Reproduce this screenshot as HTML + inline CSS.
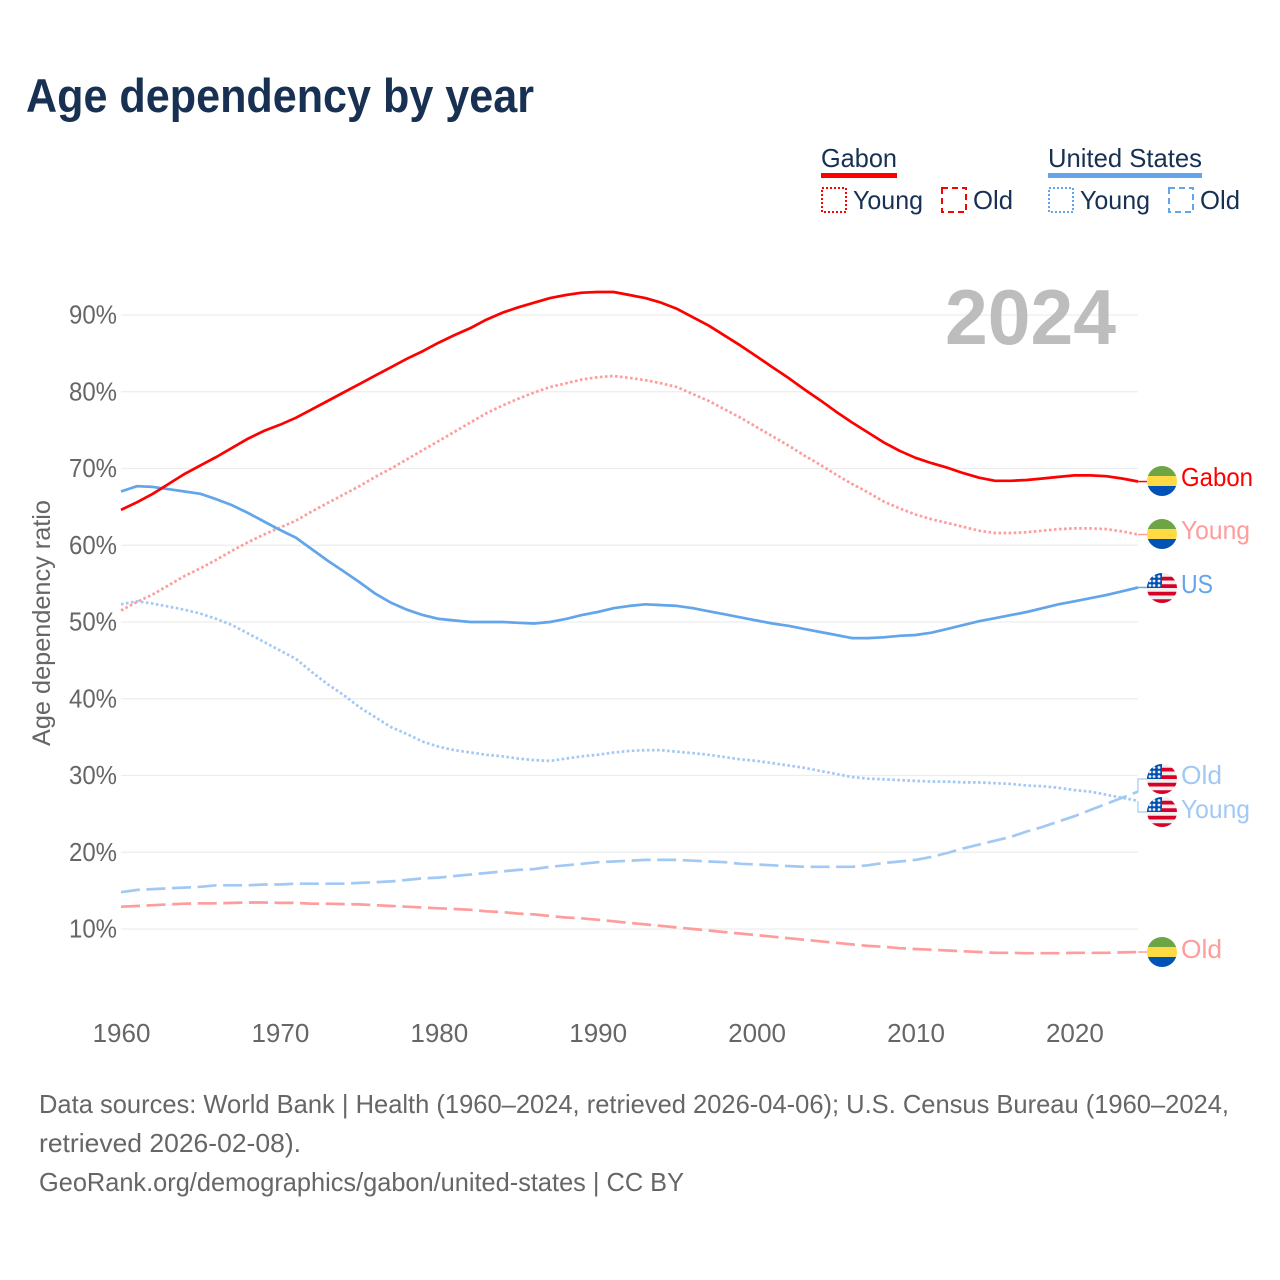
<!DOCTYPE html>
<html lang="en">
<head>
<meta charset="utf-8">
<title>Age dependency by year</title>
<style>
html,body{margin:0;padding:0;background:#fff;width:1280px;height:1280px;overflow:hidden}
svg{display:block;font-family:"Liberation Sans",sans-serif}
</style>
</head>
<body>
<svg id="chart" xmlns="http://www.w3.org/2000/svg" width="1280" height="1280" viewBox="0 0 1280 1280">
  <rect width="1280" height="1280" fill="#fff"/>
  <text x="26" y="112" font-size="47" font-weight="700" fill="#183153" textLength="508" lengthAdjust="spacingAndGlyphs">Age dependency by year</text>

  <g font-size="26" fill="#183153">
    <g>
      <text x="821" y="167" textLength="76" lengthAdjust="spacingAndGlyphs">Gabon</text>
      <rect x="821" y="173" width="76" height="5" fill="#ff0000"/>
      <rect x="822" y="188" width="24" height="24" fill="none" stroke="#ff0000" stroke-width="2" stroke-dasharray="2 2"/>
      <text x="853" y="209" textLength="70" lengthAdjust="spacingAndGlyphs">Young</text>
      <rect x="942" y="188" width="24" height="24" fill="none" stroke="#ff0000" stroke-width="2" stroke-dasharray="6 4"/>
      <text x="973" y="209" textLength="40" lengthAdjust="spacingAndGlyphs">Old</text>
    </g>
    <g>
      <text x="1048" y="167" textLength="154" lengthAdjust="spacingAndGlyphs">United States</text>
      <rect x="1048" y="173" width="154" height="5" fill="#62a5eb"/>
      <rect x="1049" y="188" width="24" height="24" fill="none" stroke="#62a5eb" stroke-width="2" stroke-dasharray="2 2"/>
      <text x="1080" y="209" textLength="70" lengthAdjust="spacingAndGlyphs">Young</text>
      <rect x="1169" y="188" width="24" height="24" fill="none" stroke="#62a5eb" stroke-width="2" stroke-dasharray="6 4"/>
      <text x="1200" y="209" textLength="40" lengthAdjust="spacingAndGlyphs">Old</text>
    </g>
  </g>

  <g id="grid"></g>
  <text x="945" y="344" font-size="78" font-weight="700" fill="#bdbdbd" textLength="171" lengthAdjust="spacingAndGlyphs">2024</text>
  <g id="yticks" font-size="26" fill="#666"></g>
  <g id="xticks" font-size="26" fill="#666"></g>
  <text transform="translate(50,746) rotate(-90)" font-size="25" fill="#666" textLength="246" lengthAdjust="spacingAndGlyphs">Age dependency ratio</text>
  <g id="series"></g>
  <g id="ends" font-size="26"></g>

  <g font-size="26" fill="#666">
    <text x="39" y="1113" textLength="1190" lengthAdjust="spacingAndGlyphs">Data sources: World Bank | Health (1960–2024, retrieved 2026-04-06); U.S. Census Bureau (1960–2024,</text>
    <text x="39" y="1152" textLength="262" lengthAdjust="spacingAndGlyphs">retrieved 2026-02-08).</text>
    <text x="39" y="1191" textLength="645" lengthAdjust="spacingAndGlyphs">GeoRank.org/demographics/gabon/united-states | CC BY</text>
  </g>
</svg>
<script>
const firstYear = 1960;
const xTickYears = [1960, 1970, 1980, 1990, 2000, 2010, 2020];
const yTickValues = [10, 20, 30, 40, 50, 60, 70, 80, 90];
const gabonTotal = [64.6,65.6,66.7,68.0,69.3,70.4,71.5,72.7,73.9,74.9,75.7,76.6,77.7,78.8,79.9,81.0,82.1,83.2,84.3,85.3,86.4,87.4,88.3,89.4,90.3,91.0,91.6,92.2,92.6,92.9,93.0,93.0,92.6,92.2,91.6,90.8,89.7,88.6,87.3,86.0,84.6,83.2,81.8,80.3,78.9,77.4,76.0,74.7,73.4,72.3,71.4,70.7,70.1,69.4,68.8,68.4,68.4,68.5,68.7,68.9,69.1,69.1,69.0,68.7,68.3];
const gabonYoung = [51.5,52.6,53.6,54.8,56.0,57.0,58.1,59.3,60.4,61.4,62.3,63.2,64.4,65.5,66.6,67.7,68.9,70.0,71.2,72.4,73.6,74.8,76.0,77.2,78.2,79.1,79.9,80.6,81.1,81.6,81.9,82.05,81.8,81.5,81.1,80.6,79.7,78.8,77.7,76.6,75.4,74.2,73.0,71.7,70.5,69.2,68.0,66.9,65.7,64.8,64.0,63.4,62.9,62.4,61.9,61.6,61.6,61.7,61.9,62.1,62.2,62.2,62.1,61.8,61.4];
const gabonOld = [12.9,13.0,13.1,13.2,13.3,13.35,13.35,13.4,13.45,13.45,13.4,13.4,13.3,13.3,13.25,13.2,13.1,13.0,12.9,12.8,12.7,12.6,12.5,12.3,12.2,12.0,11.9,11.7,11.5,11.4,11.2,11.0,10.8,10.6,10.4,10.2,10.0,9.8,9.6,9.4,9.2,9.0,8.8,8.6,8.4,8.2,8.0,7.8,7.7,7.5,7.4,7.3,7.2,7.1,7.0,6.9,6.9,6.85,6.85,6.85,6.9,6.9,6.9,6.95,7.0];
const usTotal = [67.0,67.7,67.6,67.3,67.0,66.7,66.0,65.2,64.2,63.1,62.0,61.0,59.5,58.0,56.6,55.2,53.7,52.5,51.6,50.9,50.4,50.2,50.0,50.0,50.0,49.9,49.8,50.0,50.4,50.9,51.3,51.8,52.1,52.3,52.2,52.1,51.8,51.4,51.0,50.6,50.2,49.8,49.5,49.1,48.7,48.3,47.9,47.9,48.0,48.2,48.3,48.6,49.1,49.6,50.1,50.5,50.9,51.3,51.8,52.3,52.7,53.1,53.5,54.0,54.5];
const usYoung = [52.3,52.7,52.4,52.0,51.6,51.1,50.4,49.6,48.5,47.4,46.3,45.2,43.5,41.9,40.5,38.9,37.6,36.3,35.4,34.4,33.75,33.3,33.0,32.7,32.5,32.2,32.0,31.9,32.2,32.5,32.7,33.0,33.2,33.3,33.3,33.1,32.9,32.7,32.4,32.1,31.9,31.6,31.3,31.0,30.6,30.2,29.8,29.6,29.5,29.4,29.3,29.2,29.2,29.1,29.1,29.0,28.9,28.7,28.6,28.4,28.1,27.9,27.5,27.1,26.7];
const usOld = [14.8,15.1,15.2,15.3,15.4,15.5,15.7,15.7,15.7,15.8,15.8,15.9,15.9,15.9,15.9,16.0,16.1,16.2,16.4,16.6,16.7,16.9,17.1,17.3,17.5,17.7,17.8,18.1,18.3,18.5,18.7,18.8,18.9,19.0,19.0,19.0,18.9,18.8,18.7,18.5,18.4,18.3,18.2,18.1,18.1,18.1,18.1,18.3,18.6,18.8,19.0,19.4,19.9,20.5,21.0,21.5,22.0,22.7,23.3,24.0,24.7,25.5,26.3,27.1,27.9];

const NS = 'http://www.w3.org/2000/svg';
function xScale(year) { return 121 + (year - 1960) * 15.89; }
function yScale(v) { return 315 + (90 - v) * 7.675; }
function mk(tag, attrs, parent, text) {
  const el = document.createElementNS(NS, tag);
  for (const k in attrs) el.setAttribute(k, attrs[k]);
  if (text !== undefined) el.textContent = text;
  parent.appendChild(el);
  return el;
}
const grid = document.getElementById('grid');
const yticks = document.getElementById('yticks');
const xticks = document.getElementById('xticks');
const seriesG = document.getElementById('series');
const ends = document.getElementById('ends');
const defs = mk('defs', {}, document.getElementById('chart'));
const clip = mk('clipPath', {id: 'flag-clip'}, defs);
mk('circle', {cx: 0, cy: 0, r: 15}, clip);

yTickValues.forEach(function (v) {
  const line = mk('line', {x1: 121, x2: 1138, y1: yScale(v), y2: yScale(v), stroke: '#ededed', 'stroke-width': 1.3}, grid);
  
  
  const t = mk('text', {x: 69, y: yScale(v) + 8.5, textLength: 48, lengthAdjust: 'spacingAndGlyphs'}, yticks, v + '%');
  
  
});
xTickYears.forEach(function (yr) {
  const t = mk('text', {x: xScale(yr) + 0.5, y: 1042, 'text-anchor': 'middle'}, xticks, String(yr));
  
  
});

function drawLine(values, color, dash, name) {
  const pts = values.map(function (v, i) { return xScale(firstYear + i).toFixed(1) + ',' + yScale(v).toFixed(1); });
  const p = mk('polyline', {points: pts.join(' '), fill: 'none', stroke: color, 'stroke-width': 2.7, 'stroke-linejoin': 'round'}, seriesG);
  if (dash) p.setAttribute('stroke-dasharray', dash);
  
  
}
const RED = '#ff0000', PALE_RED = '#ff9c9c', BLUE = '#62a5eb', PALE_BLUE = '#a2c9f4';
const DOT = '2.6 2.45', DASH = '19 6.6';
drawLine(gabonOld, PALE_RED, DASH, 'gabon-old-line');
drawLine(usOld, PALE_BLUE, DASH, 'us-old-line');
drawLine(usYoung, PALE_BLUE, DOT, 'us-young-line');
drawLine(gabonYoung, PALE_RED, DOT, 'gabon-young-line');
drawLine(usTotal, BLUE, null, 'us-total-line');
drawLine(gabonTotal, RED, null, 'gabon-total-line');

function drawFlag(kind, cy, name) {
  const g = mk('g', {transform: 'translate(1162,' + cy + ')', 'clip-path': 'url(#flag-clip)'}, ends);
  
  
  if (kind === 'ga') {
    mk('rect', {x: -15, y: -15, width: 30, height: 10, fill: '#6da544'}, g);
    mk('rect', {x: -15, y: -5, width: 30, height: 10, fill: '#ffda44'}, g);
    mk('rect', {x: -15, y: 5, width: 30, height: 10, fill: '#0052b4'}, g);
  } else {
    mk('rect', {x: -15, y: -15, width: 30, height: 30, fill: '#f0f0f0'}, g);
    [-11.25, -3.75, 3.75, 11.25].forEach(function (sy) {
      mk('rect', {x: -15, y: sy, width: 30, height: 3.75, fill: '#d80027'}, g);
    });
    mk('rect', {x: -15, y: -15, width: 15, height: 15, fill: '#0052b4'}, g);
    [[-3, -11.5], [-8, -11.5], [-3, -7], [-8, -7], [-12, -7], [-3, -2.5], [-8, -2.5], [-12, -2.5]].forEach(function (s) {
      mk('circle', {cx: s[0], cy: s[1], r: 1.4, fill: '#f0f0f0'}, g);
    });
  }
}
function endLabel(text, color, flag, flagY, textW, baseY, name) {
  drawFlag(flag, flagY, name + '-flag');
  const t = mk('text', {x: 1181, y: baseY, fill: color, textLength: textW, lengthAdjust: 'spacingAndGlyphs'}, ends, text);
  
  
}
const lastIdx = gabonTotal.length - 1;
function connector(v, cy, color, bend, name) {
  const x0 = xScale(firstYear + lastIdx), y0 = yScale(v);
  const d = bend
    ? 'M' + x0 + ' ' + y0 + ' L' + x0 + ' ' + cy + ' L1147 ' + cy
    : 'M' + x0 + ' ' + y0 + ' L1147 ' + y0;
  const p = mk('path', {d: d, fill: 'none', stroke: color, 'stroke-width': bend ? 1.2 : 1.5}, ends);
  
  
}
connector(gabonTotal[lastIdx], 481, RED, false, 'gabon-total-connector');
connector(gabonYoung[lastIdx], 534, PALE_RED, false, 'gabon-young-connector');
connector(usTotal[lastIdx], 587, BLUE, false, 'us-total-connector');
connector(usOld[lastIdx], 779, PALE_BLUE, true, 'us-old-connector');
connector(usYoung[lastIdx], 812, PALE_BLUE, true, 'us-young-connector');
connector(gabonOld[lastIdx], 952, PALE_RED, false, 'gabon-old-connector');
endLabel('Gabon', RED, 'ga', 481, 72, 486, 'end-gabon-total');
endLabel('Young', PALE_RED, 'ga', 534, 69, 539, 'end-gabon-young');
endLabel('US', BLUE, 'us', 588, 32, 593, 'end-us-total');
endLabel('Old', PALE_BLUE, 'us', 779, 41, 784, 'end-us-old');
endLabel('Young', PALE_BLUE, 'us', 812, 69, 818, 'end-us-young');
endLabel('Old', PALE_RED, 'ga', 952, 41, 958, 'end-gabon-old');
</script>
</body>
</html>
